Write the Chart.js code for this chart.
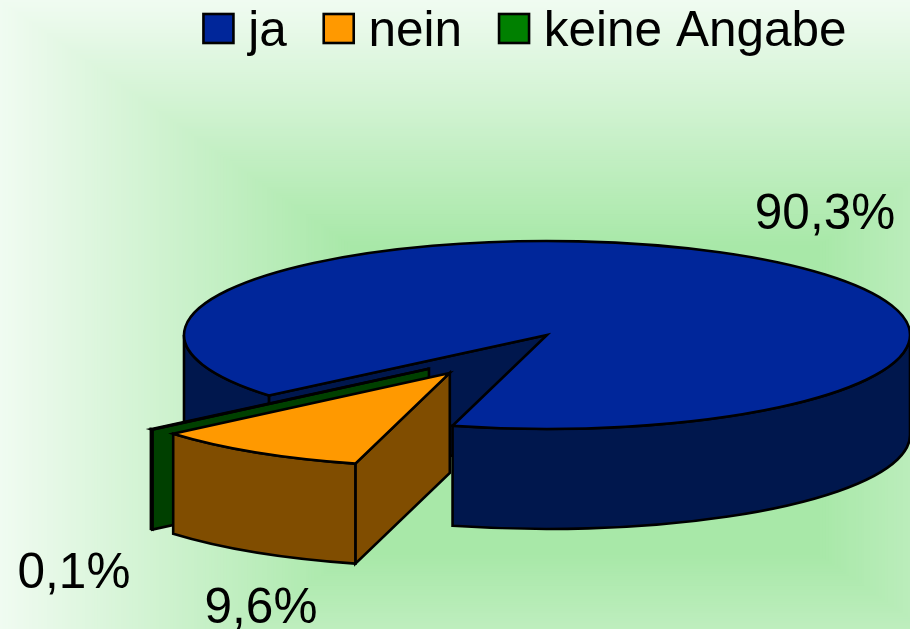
<!DOCTYPE html>
<html><head><meta charset="utf-8">
<style>html,body{margin:0;padding:0;background:#fff}#w{width:910px;height:629px}</style>
<script src="https://cdn.jsdelivr.net/npm/chart.js@4"></script>
</head><body><div id="w"><canvas id="c" width="910" height="629"></canvas></div>
<script>
const categories = ['ja', 'nein', 'keine Angabe'];
const values = [90.3, 9.6, 0.1];
const valueLabels = ['90,3%', '9,6%', '0,1%'];
const topColors = ['#00269A', '#FF9900', '#008000'];
const wallColors = ['#00174D', '#804D00', '#004000'];
const explode = [0, 0.49, 0.44];
const nudge = [[0, 0], [-2, -1], [4, 7]];

// layout of the flattened pie
const CX = 547, CY = 335, RX = 363, RY = 94, DEPTH = 100;
const FONT = '49.5px "Liberation Sans"';
const labelPos = [[825, 215], [261, 609], [74, 574]];
const paintOrder = [0, 2, 1];
let pieR = 0;
let spans = [];

function applyPie(ctx, base) {
  ctx.translate(CX, CY);
  ctx.scale(RX / pieR, RY / pieR);
  ctx.translate(-base.x, -base.y);
}
function shift(arc, i) {
  const m = (spans[i][0] + spans[i][1]) / 2, o = (arc.options.offset || 0) / 4;
  return [arc.x + Math.cos(m) * o, arc.y + Math.sin(m) * o];
}
function paintPath(ctx, fill, build) {
  ctx.save();
  ctx.beginPath();
  build();
  ctx.restore();
  ctx.fillStyle = fill;
  ctx.strokeStyle = '#000';
  ctx.lineWidth = 2.6;
  ctx.lineJoin = 'miter';
  ctx.fill();
  ctx.stroke();
}
const pie3d = {
  id: 'pie3d',
  afterDatasetsUpdate(chart) {
    const arcs = chart.getDatasetMeta(0).data;
    pieR = arcs[0].outerRadius;
    spans = arcs.map(arc => [arc.startAngle, arc.endAngle]);
    arcs.forEach((arc, i) => {
      arc.x += nudge[i][0] * pieR / RX;
      arc.y += nudge[i][1] * pieR / RY;
      // the arc element widens and narrows an exploded slice while drawing it; cancel that
      const fix = 1 - Math.sin(Math.min(Math.PI, arc.circumference || 0));
      const grow = (arc.options.offset || 0) / 4 * fix;
      const widen = grow / (2 * Math.PI * pieR);
      arc.outerRadius = pieR - grow;
      arc.startAngle -= widen;
      arc.endAngle += widen;
    });
  },
  beforeDraw(chart) {
    const ctx = chart.ctx, n = 120;
    const a = [240, 251, 241], b = [168, 232, 168];
    ctx.save();
    for (let i = 0; i < n; i++) {
      const t = i / (n - 1);
      const c = a.map((v, j) => Math.round(v + (b[j] - v) * t));
      ctx.fillStyle = `rgb(${c})`;
      const x0 = 350 * t, x1 = 1170 - 350 * t, y0 = 245 * t, y1 = 800 - 245 * t;
      ctx.fillRect(x0, y0, x1 - x0, y1 - y0);
    }
    ctx.restore();
  },
  beforeDatasetsDraw(chart) {
    const ctx = chart.ctx, arcs = chart.getDatasetMeta(0).data, base = arcs[0];
    const d = DEPTH * pieR / RY, r = pieR;
    paintOrder.forEach(i => {
      const arc = arcs[i], [x, y] = shift(arc, i);
      const [a0, a1] = spans[i];
      const pt = a => [x + Math.cos(a) * r, y + Math.sin(a) * r];
      // cut faces turned to the viewer
      [[a0, Math.cos(a0) < 0], [a1, Math.cos(a1) > 0]].forEach(([a, vis]) => {
        if (!vis) return;
        paintPath(ctx, wallColors[i], () => {
          applyPie(ctx, base);
          const p = pt(a);
          ctx.moveTo(x, y); ctx.lineTo(p[0], p[1]);
          ctx.lineTo(p[0], p[1] + d); ctx.lineTo(x, y + d); ctx.closePath();
        });
      });
      // outer wall, lower half of the rim only
      for (let k = 0; k < 3; k++) {
        const lo = Math.max(a0, k * 2 * Math.PI), hi = Math.min(a1, k * 2 * Math.PI + Math.PI);
        if (hi <= lo) continue;
        paintPath(ctx, wallColors[i], () => {
          applyPie(ctx, base);
          ctx.arc(x, y, r, lo, hi);
          ctx.arc(x, y + d, r, hi, lo, true);
          ctx.closePath();
        });
      }
    });
    ctx.save();
    applyPie(ctx, base);
  },
  afterDatasetsDraw(chart) {
    const ctx = chart.ctx, arcs = chart.getDatasetMeta(0).data;
    ctx.restore();
    arcs.forEach((arc, i) => {
      const [x, y] = shift(arc, i);
      ctx.save();
      ctx.beginPath();
      applyPie(ctx, arcs[0]);
      ctx.moveTo(x, y);
      ctx.arc(x, y, pieR, spans[i][0], spans[i][1]);
      ctx.closePath();
      ctx.restore();
      ctx.strokeStyle = '#000'; ctx.lineWidth = 2.6; ctx.stroke();
    });
  },
  afterDraw(chart) {
    const ctx = chart.ctx;
    ctx.save();
    ctx.font = FONT; ctx.fillStyle = '#000'; ctx.textAlign = 'center'; ctx.textBaseline = 'middle';
    valueLabels.forEach((t, i) => ctx.fillText(t, labelPos[i][0], labelPos[i][1]));
    // legend swatches
    chart.legend.legendHitBoxes.forEach((h, i) => {
      ctx.fillStyle = topColors[i]; ctx.strokeStyle = '#000'; ctx.lineWidth = 2.6;
      ctx.fillRect(h.left, 14, 30, 29); ctx.strokeRect(h.left, 14, 30, 29);
    });
    ctx.restore();
  }
};
new Chart(document.getElementById('c'), {
  type: 'pie',
  data: { labels: categories, datasets: [{
    data: values, backgroundColor: topColors, borderWidth: 0, clip: false,
    offset: c => {
      const area = c.chart.chartArea;
      if (!area) return 0;
      const most = Math.max(...explode);
      const r = Math.min(area.width, area.height) / (2 + 4 * most);
      return explode[c.dataIndex] * 4 * r;
    }
  }] },
  plugins: [pie3d],
  options: {
    responsive: false, animation: false, rotation: 230,
    layout: { padding: { left: 140, top: -29 } },
    plugins: {
      tooltip: { enabled: false },
      legend: { position: 'top', align: 'center', labels: {
        color: '#000', boxWidth: 20, boxHeight: 20, padding: 37,
        font: { family: '"Liberation Sans"', size: 49.5 }
      } }
    }
  }
});
</script></body></html>
